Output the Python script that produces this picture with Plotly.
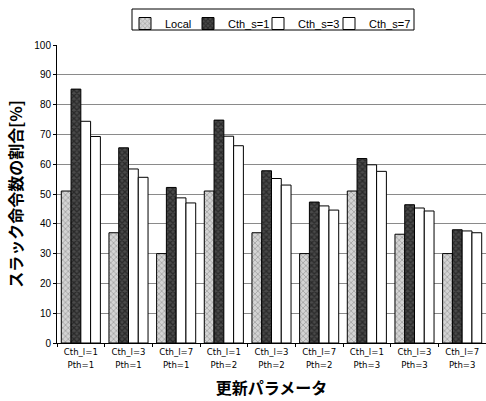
import plotly.graph_objects as go

categories = ["Cth_l=1<br>Pth=1", "Cth_l=3<br>Pth=1", "Cth_l=7<br>Pth=1",
              "Cth_l=1<br>Pth=2", "Cth_l=3<br>Pth=2", "Cth_l=7<br>Pth=2",
              "Cth_l=1<br>Pth=3", "Cth_l=3<br>Pth=3", "Cth_l=7<br>Pth=3"]
local = [51, 37, 30, 51, 37, 30, 51, 36.5, 30]
cth_s1 = [85.2, 65.5, 52.2, 74.8, 57.8, 47.3, 61.9, 46.4, 38]
cth_s3 = [74.4, 58.4, 48.7, 69.4, 55.2, 46, 59.8, 45.3, 37.6]
cth_s7 = [69.3, 55.6, 47, 66.2, 53, 44.6, 57.6, 44.3, 37]
yticks = [0, 10, 20, 30, 40, 50, 60, 70, 80, 90, 100]

W, H = 486, 401
ML, MR, MT, MB = 57, 0, 45, 58

series = [
    ("Local", local, dict(color="#d4d4d4", pattern=dict(shape="x", fgcolor="#7a7a7a", size=4, solidity=0.4))),
    ("Cth_s=1", cth_s1, dict(color="#4a4a4a", pattern=dict(shape="x", fgcolor="#0a0a0a", size=4, solidity=0.55))),
    ("Cth_s=3", cth_s3, dict(color="white")),
    ("Cth_s=7", cth_s7, dict(color="white")),
]
# legend symbol centres (px from left)
legend_sym_x = [145, 208, 278, 349]

font_lat = "Liberation Sans, Arial, sans-serif"
font_narrow = "Liberation Sans Narrow, DejaVu Sans Condensed, Arial Narrow, sans-serif"
font_jp = "Noto Sans CJK JP, sans-serif"

fig = go.Figure()
legend_layout = {}
for i, (name, vals, mk) in enumerate(series):
    mk = dict(mk)
    mk["line"] = dict(color="black", width=1)
    lname = "legend" if i == 0 else f"legend{i + 1}"
    fig.add_trace(go.Bar(name=name, x=categories, y=vals, marker=mk, legend=lname))
    legend_layout[lname] = dict(
        orientation="h", xref="container", yref="container",
        x=(legend_sym_x[i] - 20) / W, xanchor="left",
        y=1 - 9 / H, yanchor="top",
        bgcolor="rgba(0,0,0,0)", borderwidth=0,
        font=dict(size=11, family=font_lat), itemwidth=30,
    )

pw = W - ML - MR
ph = H - MT - MB
box_x0, box_x1, box_y0, box_y1 = 132, 414, 9, 30
fig.add_shape(type="rect", xref="paper", yref="paper",
              x0=(box_x0 - ML) / pw, x1=(box_x1 - ML) / pw,
              y0=(H - MB - box_y1) / ph, y1=(H - MB - box_y0) / ph,
              line=dict(color="black", width=1), fillcolor="rgba(0,0,0,0)", layer="above")

fig.update_layout(
    width=W, height=H,
    margin=dict(l=ML, r=MR, t=MT, b=MB, autoexpand=False),
    paper_bgcolor="white", plot_bgcolor="white",
    barmode="group", bargap=0.18, bargroupgap=0,
    font=dict(family=font_lat, size=10, color="black"),
    showlegend=True,
    xaxis=dict(
        tickson="boundaries", ticks="outside", ticklen=3, tickcolor="black",
        showline=True, linecolor="black", linewidth=1, automargin=False,
        tickfont=dict(size=9.5, family=font_narrow),
        title=dict(text="<b>更新パラメータ</b>", font=dict(size=16, family=font_jp), standoff=14),
    ),
    yaxis=dict(
        range=[0, 100], tickvals=yticks, ticks="outside", ticklen=3, tickcolor="black",
        showline=True, linecolor="black", linewidth=1, automargin=False,
        showgrid=True, gridcolor="#8a8a8a", gridwidth=1,
        tickfont=dict(size=10, family=font_lat),
        title=dict(text="<b>スラック命令数の割合[%]</b>", font=dict(size=16, family=font_jp), standoff=7),
    ),
    **legend_layout,
)
fig.write_html("out.html", config={"displayModeBar": False},
               post_script="document.body.style.margin='0';document.body.style.overflow='hidden';")
